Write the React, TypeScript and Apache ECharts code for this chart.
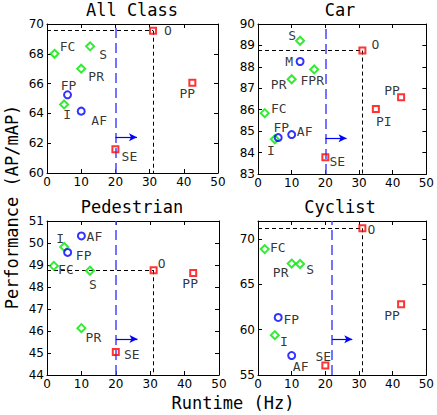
import React, { useEffect, useRef } from "react";
import * as echarts from "echarts";

type P = [string, number, number];

// ---- data (Runtime Hz, AP/mAP) ----
const allGreen: P[] = [["FC", 2.2, 68.0], ["S", 12.6, 68.5], ["PR", 10, 67.0], ["I", 5, 64.6]];
const allBlue: P[] = [["FP", 6, 65.25], ["AF", 10, 64.15]];
const allRed: P[] = [["O", 31, 69.55], ["PP", 42.5, 66.05], ["SE", 20, 61.6]];

const carGreen: P[] = [["S", 12.5, 89.22], ["FPR", 16.7, 87.88], ["PR", 10, 87.42], ["FC", 2, 85.84], ["I", 5, 84.62]];
const carBlue: P[] = [["M", 12.5, 88.25], ["FP", 6, 84.7], ["AF", 10, 84.84]];
const carRed: P[] = [["O", 31, 88.76], ["PP", 42.5, 86.58], ["PI", 35, 86.03], ["SE", 20, 83.78]];

const pedGreen: P[] = [["I", 5, 49.82], ["FC", 2, 48.96], ["S", 12.5, 48.74], ["PR", 10, 46.13]];
const pedBlue: P[] = [["AF", 10, 50.32], ["FP", 6, 49.57]];
const pedRed: P[] = [["O", 31, 48.76], ["PP", 42.5, 48.64], ["SE", 20, 45.05]];

const cycGreen: P[] = [["FC", 2, 68.9], ["PR", 10, 67.3], ["S", 12.5, 67.25], ["I", 5, 59.4]];
const cycBlue: P[] = [["FP", 6, 61.35], ["AF", 10, 57.15]];
const cycRed: P[] = [["O", 31, 71.2], ["PP", 42.5, 62.8], ["SE", 20, 56.05]];

const titles = ["All Class", "Car", "Pedestrian", "Cyclist"];
const yRanges: [number, number, number][] = [[60, 70, 2], [83, 90, 1], [44, 51, 1], [55, 72, 5]];
const thresholds = [20, 20, 20, 22];
const arrows: [number, number, number][] = [[20, 26.3, 62.4], [20, 26.3, 84.67], [20, 26.3, 45.64], [22, 28, 58.95]];

// label offsets (px, from marker centre) — styling only
const offsets: Record<string, [number, number]>[] = [
  { FC: [13, -7], S: [13, 8], PR: [15, 8], I: [3, 10], FP: [1, -9], AF: [18, 9], O: [15, 0], PP: [-5, 11], SE: [14, 7] },
  { S: [-8, -5], FPR: [-2, 11], PR: [-13, 5], FC: [14, -5], I: [-4, 11], M: [-11, 0], FP: [3, -10], AF: [13, -3], O: [13, -6], PP: [-9, -7], PI: [8, 12], SE: [12, 4] },
  { I: [-4, -8], FC: [12, 4], S: [3, 14], PR: [12, 9], AF: [13, 1], FP: [16, 3], O: [8, -7], PP: [-3, 11], SE: [16, 3] },
  { FC: [13, -2], PR: [-11, 9], S: [10, 5], I: [9, 6], FP: [13, 2], AF: [9, 11], O: [9, 1], PP: [-9, 11], SE: [-2, -9] },
];

const grids = [
  { left: 47, top: 24, width: 171, height: 149 },
  { left: 258, top: 24, width: 171, height: 150 },
  { left: 47, top: 221, width: 172, height: 154 },
  { left: 258, top: 221, width: 171, height: 154 },
];
const titlePos: [number, number][] = [[132, 10], [340, 10], [132, 207], [340, 207]];

const panels = [
  [allGreen, allBlue, allRed],
  [carGreen, carBlue, carRed],
  [pedGreen, pedBlue, pedRed],
  [cycGreen, cycBlue, cycRed],
];

const GREEN = "#00e600";
const BLUE = "#0000ff";
const RED = "#ff0000";

export default function App() {
  const ref = useRef<HTMLDivElement>(null);
  useEffect(() => {
    if (!ref.current) return;
    const chart = echarts.init(ref.current, undefined, { renderer: "svg" });
    const xAxes: any[] = [];
    const yAxes: any[] = [];
    const series: any[] = [];
    const tickFont = { fontFamily: "DejaVu Sans", fontSize: 12, color: "#000" };
    const lineBlack = { color: "#000", width: 1 };

    panels.forEach((groups, i) => {
      const [ymin, ymax, yint] = yRanges[i];
      const base = { gridIndex: i, type: "value", splitLine: { show: false }, axisLine: { show: true, onZero: false, lineStyle: lineBlack }, axisTick: { show: true, inside: true, length: 4, lineStyle: lineBlack } };
      xAxes.push({ ...base, position: "bottom", min: 0, max: 50, interval: 10, axisLabel: { ...tickFont, margin: 3 } });
      xAxes.push({ ...base, position: "top", min: 0, max: 50, interval: 10, axisLabel: { show: false } });
      yAxes.push({ ...base, position: "left", min: ymin, max: ymax, interval: yint, axisLabel: { ...tickFont, margin: 3, showMaxLabel: i !== 3 } });
      yAxes.push({ ...base, position: "right", min: ymin, max: ymax, interval: yint, axisLabel: { show: false } });

      const symbols = ["diamond", "circle", "rect"];
      const sizes = [8, 7, 6];
      const colors = [GREEN, BLUE, RED];
      groups.forEach((pts, g) => {
        series.push({
          type: "scatter",
          xAxisIndex: 2 * i,
          yAxisIndex: 2 * i,
          symbol: symbols[g],
          symbolSize: sizes[g],
          z: 5,
          itemStyle: { color: "rgba(0,0,0,0)", borderColor: colors[g], borderWidth: 2 },
          data: pts.map((p) => ({
            name: p[0],
            value: [p[1], p[2]],
            label: {
              show: true,
              formatter: p[0],
              position: "inside",
              offset: offsets[i][p[0]] || [12, 0],
              fontFamily: "DejaVu Sans Mono",
              fontSize: 13,
              color: "#000",
            },
          })),
        });
      });

      const best = groups[2].find((p) => p[0] === "O")!;
      const [ax0, ax1, ay] = arrows[i];
      series.push({
        type: "scatter",
        xAxisIndex: 2 * i,
        yAxisIndex: 2 * i,
        data: [],
        z: 2,
        markLine: {
          silent: true,
          animation: false,
          symbol: ["none", "none"],
          label: { show: false },
          data: [
            [
              { coord: [thresholds[i], ymin], lineStyle: { color: "#4646ff", width: 1.5, type: [10, 5] } },
              { coord: [thresholds[i], ymax] },
            ],
            [
              { coord: [0, best[2]], lineStyle: { color: "#000", width: 1, type: [4, 3] } },
              { coord: [best[1], best[2]] },
            ],
            [
              { coord: [best[1], best[2]], lineStyle: { color: "#000", width: 1, type: [4, 3] } },
              { coord: [best[1], ymin] },
            ],
            [
              { coord: [ax0, ay], symbol: "none", lineStyle: { color: BLUE, width: 1.2, type: "solid" } },
              { coord: [ax1, ay], symbol: "arrow", symbolSize: [6, 8] },
            ],
          ],
        },
      });
    });

    const graphics: any[] = titles.map((t, i) => ({
      type: "text",
      x: titlePos[i][0],
      y: titlePos[i][1],
      style: { text: t, fontFamily: "DejaVu Sans Mono", fontSize: 17, fill: "#000", textAlign: "center", textVerticalAlign: "middle" },
    }));
    graphics.push({
      type: "text",
      x: 233,
      y: 403,
      style: { text: "Runtime (Hz)", fontFamily: "DejaVu Sans Mono", fontSize: 17, fill: "#000", textAlign: "center", textVerticalAlign: "middle" },
    });
    graphics.push({
      type: "text",
      x: 12,
      y: 207,
      rotation: Math.PI / 2,
      style: { text: "Performance (AP/mAP)", fontFamily: "DejaVu Sans Mono", fontSize: 17, fill: "#000", textAlign: "center", textVerticalAlign: "middle" },
    });

    chart.setOption({
      animation: false,
      backgroundColor: "#fff",
      grid: grids.map((g) => ({ ...g, containLabel: false })),
      xAxis: xAxes,
      yAxis: yAxes,
      series,
      graphic: graphics,
    });
    return () => chart.dispose();
  }, []);
  return <div ref={ref} style={{ width: 437, height: 415, position: "absolute", left: 0, top: 0 }} />;
}
